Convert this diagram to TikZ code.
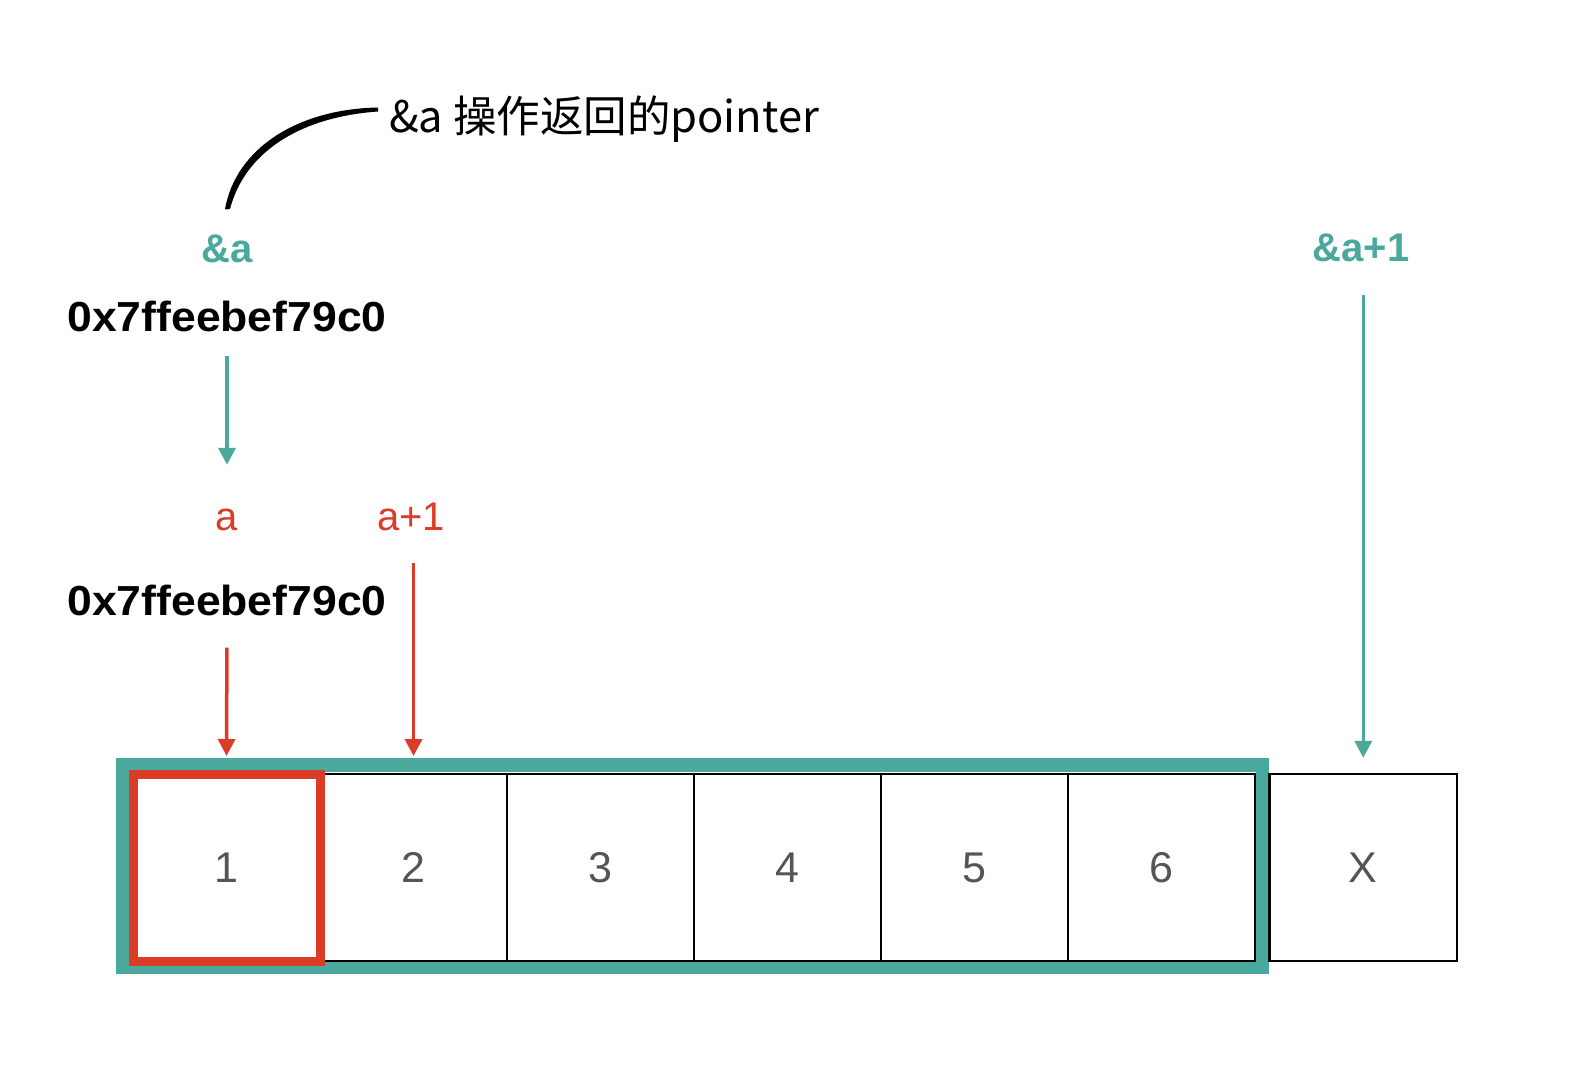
\documentclass[tikz,border=0pt]{standalone}
\usepackage{fontspec}
\setmainfont{Liberation Sans}
\newfontfamily\hexfont[FakeStretch=1.06]{Liberation Sans Bold}
\newfontfamily\lblfont{Liberation Sans Bold}
\newfontfamily\cjk{Noto Sans CJK SC}
\usetikzlibrary{arrows.meta}
\definecolor{myteal}{RGB}{74,168,156}
\definecolor{myred}{RGB}{219,60,39}
\definecolor{mygray}{RGB}{85,85,85}
\tikzset{
  hexlbl/.style={inner sep=0pt, anchor=base, font=\hexfont\fontsize{42}{50}\selectfont, text=black},
  teallbl/.style={inner sep=0pt, anchor=base, font=\lblfont\fontsize{40}{48}\selectfont, text=myteal},
  redlbl/.style={inner sep=0pt, anchor=base, font=\fontsize{40}{48}\selectfont, text=myred},
  cellbox/.style={draw=black, line width=2.5pt, minimum size=187pt, inner sep=0pt,
     font=\fontsize{43}{50}\selectfont, text=mygray},
  tealarrow/.style={draw=myteal, line width=3.5pt, -{Triangle[width=17pt,length=17pt]}},
  redarrow/.style={draw=myred, line width=3.5pt, -{Triangle[width=17pt,length=17pt]}},
}
\begin{document}
\begin{tikzpicture}[x=1pt,y=-1pt]
\useasboundingbox[fill=white] (0,0) rectangle (1576,1076);

% teal frame around the array
\draw[myteal, line width=13.5pt] (122.5,765) rectangle (1262.5,967);

% cells
\node[cellbox] (c2) at (413.5,867.5) {2};
\node[cellbox] (c3) at (600.5,867.5) {3};
\node[cellbox] (c4) at (787.5,867.5) {4};
\node[cellbox] (c5) at (974.5,867.5) {5};
\node[cellbox] (c6) at (1161.5,867.5) {6};
\node[cellbox, minimum width=187.5pt] (cX) at (1363.25,867.5) {X};
\node[cellbox, draw=myred, line width=9pt] (c1) at (226.5,867.5) {1};

% labels
\node[teallbl] (refA) at (227,262) {\&a};
\node[hexlbl] (hexA) at (227,331) {0x7ffeebef79c0};
\node[redlbl] (lblA) at (227,530.5) {a};
\node[redlbl] (lblB) at (411,530.5) {a+1};
\node[hexlbl] (hexB) at (227,615) {0x7ffeebef79c0};
\node[teallbl] (refB) at (1361,261.5) {\&a+1};

% handwritten note
\node[inner sep=0pt, anchor=west, font=\cjk\fontsize{43.5}{50}\selectfont] (note) at (389,119) {\&a 操作返回的pointer};
\coordinate (cS) at (227,209);
\coordinate (cE) at (377,110);
\fill[black] (225,209) .. controls (236,148) and (298,109) .. (378,107.5)
   -- (378,111.5) .. controls (300,117) and (245,152) .. (230,209) -- cycle;
\draw[black, line width=1.5pt, line cap=round] (cS) .. controls (240,150) and (300,111) .. (cE);

% arrows
\draw[tealarrow, shorten <=24pt, shorten >=44pt] (hexA.south) -- (lblA.north);
\draw[redarrow, shorten <=32pt, shorten >=13.5pt] (hexB.south) -- (c1.north);
\draw[redarrow, shorten <=32pt, shorten >=16.75pt] (lblB.south -| c2.north) -- (c2.north);
\draw[tealarrow, shorten <=33pt, shorten >=15pt] (refB.south -| cX.north) -- (cX.north);
\end{tikzpicture}
\end{document}
